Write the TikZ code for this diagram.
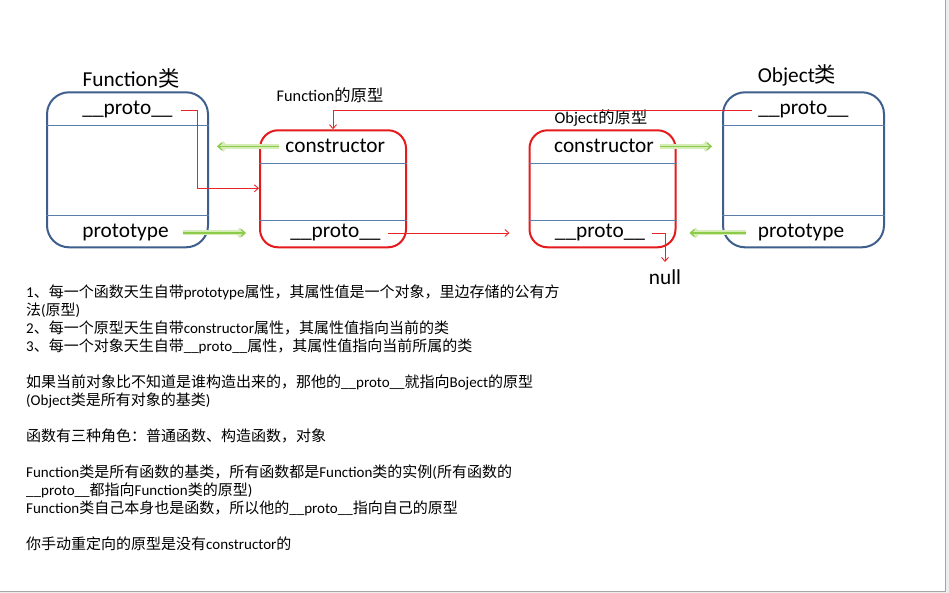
\documentclass[tikz,border=0pt]{standalone}
\usepackage{fontspec}
\setmainfont{Carlito}
\newfontfamily\cjk{Noto Sans CJK SC}
\usetikzlibrary{arrows.meta}

% switch to the CJK family for Chinese characters
\XeTeXinterchartokenstate=1
\newXeTeXintercharclass\cjkclass
\newcount\cjkcode
\def\setcjkrange#1#2{\cjkcode=#1
  \loop \XeTeXcharclass\cjkcode=\cjkclass
  \ifnum\cjkcode<#2 \advance\cjkcode by 1 \repeat}
\setcjkrange{"3000}{"303F}
\setcjkrange{"4E00}{"9FFF}
\setcjkrange{"FF00}{"FFEF}
\XeTeXinterchartoks 0 \cjkclass = {\cjk}
\XeTeXinterchartoks 4095 \cjkclass = {\cjk}
\XeTeXinterchartoks \cjkclass 0 = {\rmfamily}

\newcommand\protoword{\rmfamily\_\_proto\_\_}

\definecolor{boxblue}{HTML}{3E5F8C}
\definecolor{boxred}{HTML}{E41A1C}
\definecolor{sepblue}{HTML}{5A7DAA}
\definecolor{arrowred}{HTML}{E8262A}
\definecolor{arrowgreen}{HTML}{8CCB4A}
\definecolor{glowgreen}{HTML}{D6EDB8}
\definecolor{pagegray}{HTML}{EDEDED}

\begin{document}
\begin{tikzpicture}[x=1pt,y=-1pt,>={Straight Barb[length=4pt,width=7pt]},
  bluebox/.style={draw=boxblue,line width=2pt,rounded corners=22pt,minimum width=161pt,minimum height=155pt},
  redbox/.style={draw=boxred,line width=2pt,rounded corners=18pt,minimum width=146pt,minimum height=117pt},
  field/.style={font=\fontsize{21.3}{24}\selectfont,anchor=base,inner sep=2pt},
  tag/.style={font=\fontsize{16.3}{19}\selectfont,anchor=base,inner sep=2pt},
  note/.style={font=\fontsize{15}{18}\selectfont,anchor=base west,inner sep=0pt},
  sepline/.style={draw=sepblue,line width=0.8pt},
  redarrow/.style={->,draw=arrowred,line width=0.9pt},
  greenarrow/.style={->,draw=arrowgreen,line width=1.3pt,
    preaction={draw=glowgreen,line width=5pt}}]
\useasboundingbox (0,0) rectangle (949,593);
\fill[white] (0,0) rectangle (949,593);
\fill[pagegray] (946,0) rectangle (949,593);
\fill[pagegray] (0,592) rectangle (949,593);
\draw[gray!70,line width=1pt] (945.5,0) -- (945.5,591.5) -- (0,591.5);

% the two classes
\node[bluebox] (fnbox) at (127.5,169.8) {};
\node[bluebox] (obbox) at (803.5,169.8) {};
\foreach \b in {fnbox,obbox}{
  \draw[sepline] (\b.west |- 0,125.5) -- (\b.east |- 0,125.5);
  \draw[sepline] (\b.west |- 0,215.5) -- (\b.east |- 0,215.5);
}
% the two prototypes
\node[redbox] (fpbox) at (333,188.8) {};
\node[redbox] (opbox) at (602.5,188.8) {};
\foreach \b in {fpbox,opbox}{
  \draw[sepline] (\b.west |- 0,163.3) -- (\b.east |- 0,163.3);
  \draw[sepline] (\b.west |- 0,220.7) -- (\b.east |- 0,220.7);
}

\node[field] (fnlabel) at (131,87) {Function类};
\node[field] (fnproto) at (127.5,115) {\_\_proto\_\_};
\node[field] (fnprototype) at (125.5,238) {prototype};
\node[tag] (fplabel) at (330,101.5) {Function的原型};
\node[field] (fpcons) at (335.3,153) {constructor};
\node[field] (fpproto) at (335.5,238) {\_\_proto\_\_};
\node[tag] (oplabel) at (601,123.5) {Object的原型};
\node[field] (opcons) at (604,153) {constructor};
\node[field] (opproto) at (600,238) {\_\_proto\_\_};
\node[field] (oblabel) at (797,83) {Object类};
\node[field] (obproto) at (803.5,115) {\_\_proto\_\_};
\node[field] (obprototype) at (801,238) {prototype};
\node[field] (null) at (665,284) {null};

% __proto__ links
\coordinate (fpin) at (fpbox.west |- 0,188.3);
\draw[redarrow,shorten <=6pt] (fnproto.east) -- ++(23,0) |- (fpin);
\draw[redarrow,shorten <=4pt] (obproto.west) -| (fpbox.north);
\draw[redarrow,shorten <=5pt,shorten >=19pt] (fpproto.east) -- (fpproto.east -| opbox.west);
\draw[redarrow,shorten <=5pt,shorten >=5pt] (opproto.east) -| (null.north);

% constructor / prototype links
\draw[greenarrow,shorten <=4pt,shorten >=8pt] (fpcons.west) -- (fpcons.west -| fnbox.east);
\draw[greenarrow,shorten <=12pt,shorten >=13pt] (fnprototype.east) -- (fnprototype.east -| fpbox.west);
\draw[greenarrow,shorten <=4pt,shorten >=10pt] (opcons.east) -- (opcons.east -| obbox.west);
\draw[greenarrow,shorten <=10pt,shorten >=13pt] (obprototype.west) -- (obprototype.west -| opbox.east);

% notes
\foreach \y/\txt [count=\i] in {
  297/{1、每一个函数天生自带prototype属性，其属性值是一个对象，里边存储的公有方},
  315/{法(原型)},
  333/{2、每一个原型天生自带constructor属性，其属性值指向当前的类},
  351/{3、每一个对象天生自带\protoword 属性，其属性值指向当前所属的类},
  387/{如果当前对象比不知道是谁构造出来的，那他的\protoword 就指向Boject的原型},
  405/{(Object类是所有对象的基类)},
  441/{函数有三种角色：普通函数、构造函数，对象},
  477/{Function类是所有函数的基类，所有函数都是Function类的实例(所有函数的},
  495/{\protoword 都指向Function类的原型)},
  513/{Function类自己本身也是函数，所以他的\protoword 指向自己的原型},
  549/{你手动重定向的原型是没有constructor的}}
  \node[note] (note\i) at (26,\y) {\txt};
\end{tikzpicture}
\end{document}
